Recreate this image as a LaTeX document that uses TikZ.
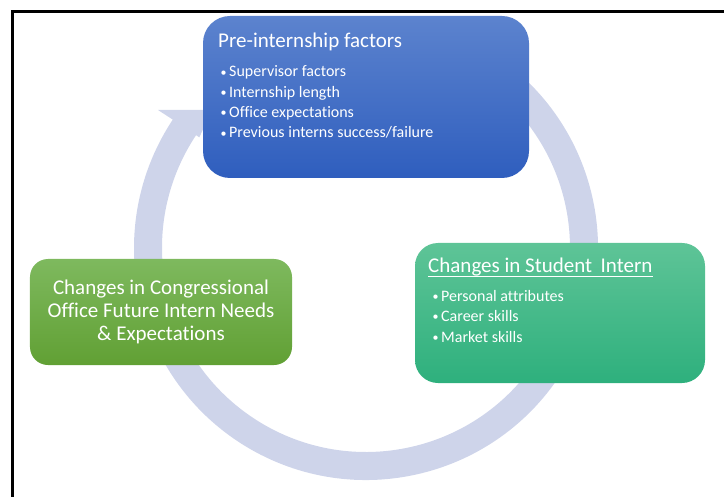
\documentclass[tikz,border=0pt]{standalone}
\usepackage{fontspec}
\setmainfont{Carlito}[Ligatures={NoCommon}]
\definecolor{ringcol}{RGB}{206,212,234}
\definecolor{bluetop}{RGB}{92,131,206}
\definecolor{bluebot}{RGB}{47,94,190}
\definecolor{teatop}{RGB}{94,196,151}
\definecolor{teabot}{RGB}{46,176,125}
\definecolor{leaftop}{RGB}{126,185,94}
\definecolor{leafbot}{RGB}{97,160,52}
\newcommand{\itemdot}{\makebox[10.5bp][l]{\hspace{2bp}\raisebox{0.8bp}{\fontsize{12bp}{12bp}\selectfont •}}}
\begin{document}
\begin{tikzpicture}[x=1bp,y=1bp,
  card/.style={rectangle,draw=none,inner sep=0pt},
  headtext/.style={inner sep=0pt,text=white,font=\fontsize{21bp}{25bp}\selectfont},
  itemtext/.style={inner sep=0pt,text=white,anchor=base west,font=\fontsize{16bp}{19bp}\selectfont},
  frameline/.style={line width=2.8bp,black}]
\useasboundingbox (0,0) rectangle (724,-497);
\clip (0,0) rectangle (724,-497);

% outer frame (continues past the right and lower edges)
\draw[frameline] (12.8,-520) -- (12.8,-11.2) -- (740,-11.2);

% circular arrow behind the cards
\coordinate (c) at (366,-248);
\fill[ringcol]
  ([shift={(60:232)}]c) arc[start angle=60,end angle=-213.6,radius=232]
  -- ([shift={(-208,138)}]c) -- ([shift={(-154,138)}]c)
  -- ([shift={(-166.7,110.6)}]c) -- ([shift={(-213.6:204)}]c)
  arc[start angle=-213.6,end angle=60,radius=204] -- cycle;

% cards
\node[card,top color=bluetop,bottom color=bluebot,minimum width=326bp,minimum height=162bp,rounded corners=27bp] (pre) at (366,-97) {};
\node[card,top color=teatop,bottom color=teabot,minimum width=290bp,minimum height=140bp,rounded corners=23bp] (student) at (560,-313) {};
\node[card,top color=leaftop,bottom color=leafbot,minimum width=262bp,minimum height=106bp,rounded corners=18bp] (office) at (161,-312) {};

% pre-internship card text
\node[headtext,anchor=base west] (pretitle) at (218,-48) {Pre-internship factors};
\node[itemtext] (pre1) at (218.5,-77) {\itemdot Supervisor factors};
\node[itemtext] (pre2) at (218.5,-97.3) {\itemdot Internship length};
\node[itemtext] (pre3) at (218.5,-117.6) {\itemdot Office expectations};
\node[itemtext] (pre4) at (218.5,-138) {\itemdot Previous interns success/failure};

% student card text
\node[headtext,anchor=base west] (sttitle) at (428,-273) {Changes in Student\hspace{0.4em}Intern};
\draw[white,line width=1bp] ([yshift=-3.8bp]sttitle.base west) -- ([yshift=-3.8bp]sttitle.base east);
\node[itemtext] (st1) at (430.5,-301) {\itemdot Personal attributes};
\node[itemtext] (st2) at (430.5,-321.5) {\itemdot Career skills};
\node[itemtext] (st3) at (430.5,-342) {\itemdot Market skills};

% office card text
\node[headtext,anchor=base] (of1) at (161,-294.5) {Changes in Congressional};
\node[headtext,anchor=base] (of2) at (161,-317.5) {Office Future Intern Needs};
\node[headtext,anchor=base] (of3) at (161,-340.5) {\& Expectations};
\end{tikzpicture}
\end{document}
